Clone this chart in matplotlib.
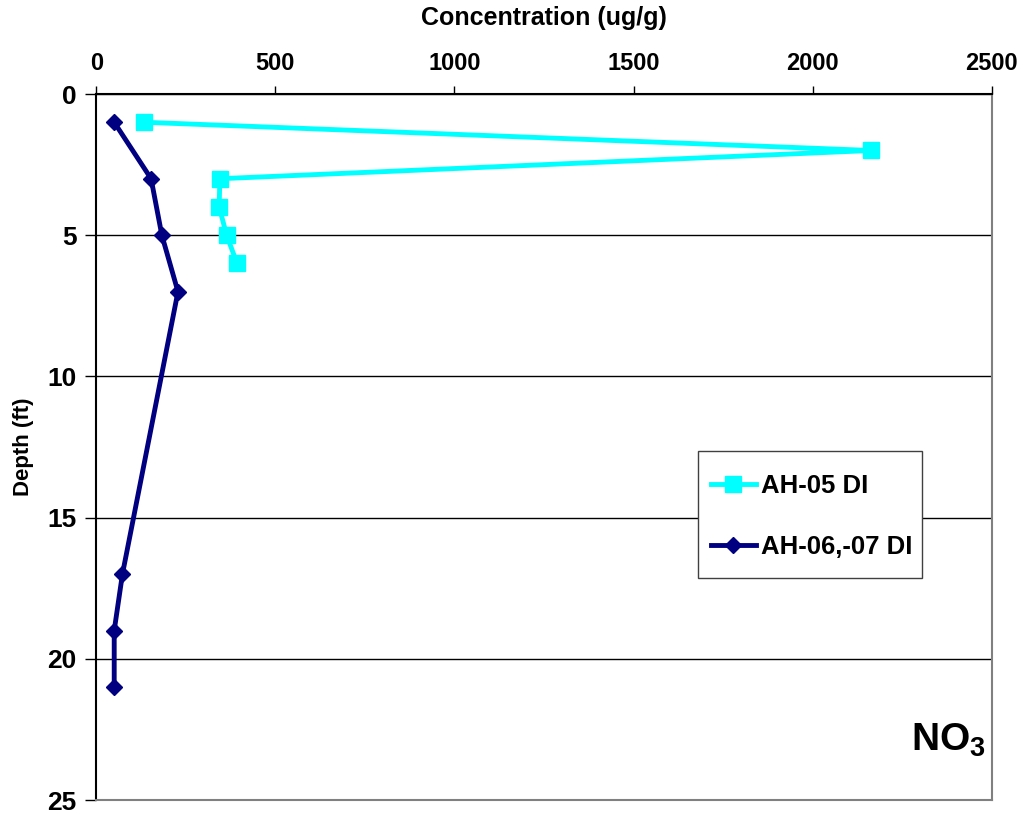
import matplotlib
matplotlib.use("Agg")
import matplotlib.pyplot as plt
from matplotlib.patches import Rectangle

plt.rcParams['font.family'] = ['Liberation Sans', 'DejaVu Sans']
plt.rcParams['font.weight'] = 'bold'
plt.rcParams['mathtext.fontset'] = 'custom'
plt.rcParams['mathtext.rm'] = 'Liberation Sans:bold'
plt.rcParams['mathtext.bf'] = 'Liberation Sans:bold'

depth_ah05 = [1, 2, 3, 4, 5, 6]
conc_ah05 = [133, 2163, 345, 343, 364, 393]
depth_ah06 = [1, 3, 5, 7, 17, 19, 21]
conc_ah06 = [50, 153, 183, 228, 73, 50, 50]
xticks = [0, 500, 1000, 1500, 2000, 2500]
yticks = [0, 5, 10, 15, 20, 25]

fig = plt.figure(figsize=(10.33, 8.14), dpi=100)
ax = fig.add_axes([96.3/1033, 1-800/814, 895.4/1033, 706/814])

ax.plot(conc_ah05, depth_ah05, color='#00FFFF', lw=3.5, marker='s', ms=11,
        label='AH-05 DI', zorder=3)
ax.plot(conc_ah06, depth_ah06, color='#000080', lw=3.5, marker='D', ms=8.5,
        label='AH-06,-07 DI', zorder=3)

ax.set_xlim(0, 2500)
ax.set_ylim(25, 0)
ax.set_xticks(xticks)
ax.set_yticks(yticks)
ax.xaxis.tick_top()
ax.xaxis.set_label_position('top')
ax.tick_params(axis='x', labelsize=17, direction='out', length=6, width=1, pad=8)
ax.tick_params(axis='y', labelsize=19, direction='out', length=8, width=1, pad=6)
for lab in ax.get_xticklabels() + ax.get_yticklabels():
    lab.set_fontweight('bold')
ax.set_xlabel('Concentration (ug/g)', fontsize=18, fontweight='bold', labelpad=19)
ax.set_ylabel('Depth (ft)', fontsize=16, fontweight='bold', labelpad=10)

ax.yaxis.grid(True, color='black', lw=1)
ax.set_axisbelow(True)
ax.spines['left'].set_color('black')
ax.spines['top'].set_color('black')
ax.spines['right'].set_color('#808080')
ax.spines['bottom'].set_color('#808080')
for s in ax.spines.values():
    s.set_linewidth(1.5)

# legend frame
ax.add_patch(Rectangle((0.672, 0.314), 0.25, 0.18, transform=ax.transAxes,
                       facecolor='white', edgecolor='#404040', lw=1, zorder=4))
leg = ax.legend(loc='center left', bbox_to_anchor=(0.686, 0.402), fontsize=18.5,
                frameon=False, borderpad=0, labelspacing=1.45, handlelength=1.75,
                handletextpad=0.2, borderaxespad=0)
leg.set_zorder(5)
for t in leg.get_texts():
    t.set_fontweight('bold')

ax.text(0.952, 0.085, r'$\mathbf{NO_3}$', transform=ax.transAxes, fontsize=28,
        fontweight='bold', ha='center', va='center')

fig.savefig('out.png', dpi=100)
